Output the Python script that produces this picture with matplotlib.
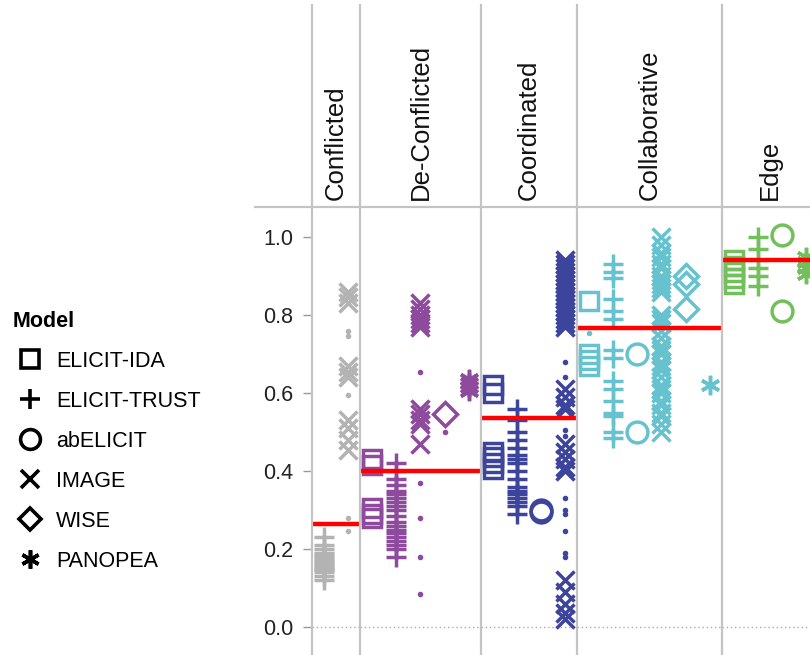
import matplotlib
matplotlib.use("Agg")
import matplotlib.pyplot as plt
from matplotlib.lines import Line2D

plt.rcParams["font.family"] = ["Liberation Sans", "DejaVu Sans"]

# ---- data ----
facets = ["Conflicted", "De-Conflicted", "Coordinated", "Collaborative", "Edge"]
facet_colors = ["#b3b3b3", "#8e4b9e", "#3d449c", "#67c2cf", "#72bf5c"]
facet_means = [0.264, 0.40, 0.537, 0.767, 0.94]

models = ["ELICIT-IDA", "ELICIT-TRUST", "abELICIT", "IMAGE", "WISE", "PANOPEA"]

conflicted = {
    "ELICIT-TRUST": [0.23, 0.21, 0.20, 0.19, 0.185, 0.18, 0.175, 0.17, 0.165,
                     0.16, 0.155, 0.15, 0.145, 0.14, 0.13, 0.12],
    "IMAGE": [0.86, 0.845, 0.83, 0.67, 0.655, 0.64, 0.53, 0.51, 0.48, 0.455],
}
conflicted_dots = {"IMAGE": [0.76, 0.745, 0.595, 0.28, 0.245]}

deconflicted = {
    "ELICIT-IDA": [0.43, 0.415, 0.305, 0.29, 0.28],
    "ELICIT-TRUST": [0.42, 0.40, 0.38, 0.365, 0.35, 0.34, 0.33, 0.32, 0.31, 0.30,
                     0.285, 0.27, 0.26, 0.25, 0.24, 0.23, 0.22, 0.21, 0.20, 0.18],
    "IMAGE": [0.83, 0.815, 0.80, 0.79, 0.78, 0.77, 0.56, 0.545, 0.53, 0.52, 0.47],
    "WISE": [0.545],
    "PANOPEA": [0.635, 0.625, 0.615, 0.605],
}
deconflicted_dots = {"IMAGE": [0.655, 0.37, 0.28, 0.18, 0.085], "WISE": [0.50]}

coordinated = {
    "ELICIT-IDA": [0.62, 0.60, 0.45, 0.435, 0.42, 0.405],
    "ELICIT-TRUST": [0.56, 0.53, 0.50, 0.48, 0.46, 0.44, 0.43, 0.42, 0.40, 0.38,
                     0.36, 0.35, 0.34, 0.33, 0.32, 0.31, 0.29],
    "abELICIT": [0.30, 0.295],
    "IMAGE": [0.94, 0.93, 0.92, 0.91, 0.90, 0.89, 0.88, 0.87, 0.86, 0.85, 0.84,
              0.83, 0.82, 0.81, 0.80, 0.79, 0.78, 0.77,
              0.61, 0.59, 0.57, 0.56, 0.47, 0.45, 0.43, 0.41, 0.40,
              0.12, 0.09, 0.06, 0.035, 0.02],
}
coordinated_dots = {"IMAGE": [0.68, 0.64, 0.505, 0.49, 0.33, 0.30, 0.29, 0.245,
                              0.19, 0.18]}

collaborative = {
    "ELICIT-IDA": [0.835, 0.70, 0.685, 0.67],
    "ELICIT-TRUST": [0.93, 0.91, 0.895, 0.84, 0.81, 0.79, 0.71, 0.69, 0.63, 0.61,
                     0.58, 0.55, 0.54, 0.50, 0.485],
    "abELICIT": [0.70, 0.50],
    "IMAGE": [1.00, 0.98, 0.96, 0.95, 0.93, 0.92, 0.90, 0.89, 0.88, 0.87, 0.86,
              0.80, 0.79, 0.78, 0.76, 0.74, 0.72, 0.71, 0.70, 0.68, 0.67, 0.66,
              0.64, 0.62, 0.61, 0.60, 0.58, 0.57, 0.55, 0.54, 0.52, 0.50],
    "WISE": [0.90, 0.88, 0.815],
    "PANOPEA": [0.62],
}
collaborative_dots = {"ELICIT-IDA": [0.755]}

edge = {
    "ELICIT-IDA": [0.94, 0.925, 0.91, 0.895, 0.88],
    "ELICIT-TRUST": [1.00, 0.97, 0.94, 0.92, 0.90, 0.875],
    "abELICIT": [1.005, 0.81],
    "PANOPEA": [0.95, 0.935, 0.92, 0.905],
}
edge_dots = {}

facet_data = [conflicted, deconflicted, coordinated, collaborative, edge]
facet_dots = [conflicted_dots, deconflicted_dots, coordinated_dots,
              collaborative_dots, edge_dots]

# marker style per model: (marker, size in pt)
marker_style = {
    "ELICIT-IDA": ("s", 13.5),
    "ELICIT-TRUST": ("+", 15),
    "abELICIT": ("o", 15),
    "IMAGE": ("x", 13.5),
    "WISE": ("D", 12),
    "PANOPEA": ((6, 2, 0), 14),
}

# ---- layout (pixels of the 810x655 picture) ----
W, H = 810, 655
step = 24.1
x0 = 312
header_y = 207


def fx(x):
    return x / W


def fy(y):
    return 1 - y / H


ylo = (627 - 655) / 390
yhi = (627 - header_y) / 390

fig = plt.figure(figsize=(W / 100, H / 100), dpi=100)

left = x0
edges = [left]
for i, name in enumerate(facets):
    data = facet_data[i]
    n = len(data)
    width = n * step
    ax = fig.add_axes([fx(left), 0, width / W, fy(header_y)])
    ax.set_xlim(0, n)
    ax.set_ylim(ylo, yhi)
    color = facet_colors[i]

    names = list(data.keys())
    for j, m in enumerate(names):
        mk, ms = marker_style[m]
        vals = data[m]
        ax.plot([j + 0.5] * len(vals), vals, ls="none", marker=mk, ms=ms,
                mfc="none", mec=color, mew=2.5, zorder=3)
    for m, vals in facet_dots[i].items():
        j = names.index(m)
        ax.plot([j + 0.5] * len(vals), vals, ls="none", marker="o", ms=4,
                mfc=color, mec=color, mew=0, zorder=3)

    ax.axhline(0, color="#aaaaaa", lw=1, ls=(0, (1, 2)), zorder=1)
    ax.axhline(facet_means[i], color="red", lw=3.2, zorder=5)

    for s in ax.spines.values():
        s.set_visible(False)
    ax.set_xticks([])
    if i == 0:
        ax.set_yticks([0, 0.2, 0.4, 0.6, 0.8, 1.0])
        ax.set_yticklabels([f"{v:.1f}" for v in [0, 0.2, 0.4, 0.6, 0.8, 1.0]],
                           fontsize=15.5, color="#222222")
        ax.tick_params(axis="y", length=6.5, width=1, color="#999999", pad=7)
    else:
        ax.set_yticks([])

    fig.text(fx(left + width / 2), fy(200), name, rotation=90, ha="center",
             va="bottom", fontsize=18.5, color="#111111")
    left += width
    edges.append(left)

# facet grid lines
for e in edges:
    fig.add_artist(Line2D([fx(e), fx(e)], [fy(5), 0], color="#c4c4c4",
                          lw=1.6, transform=fig.transFigure))
fig.add_artist(Line2D([fx(255), 1], [fy(header_y), fy(header_y)],
                      color="#c4c4c4", lw=1.6, transform=fig.transFigure))

# legend
handles = []
for m in models:
    mk, ms = marker_style[m]
    handles.append(Line2D([], [], ls="none", marker=mk, ms=ms * 0.95,
                          mfc="none", mec="black", mew=2.6))
leg = fig.legend(handles, models, title="Model", loc="upper left",
                 bbox_to_anchor=(fx(13), fy(311)), frameon=False,
                 fontsize=15.5, title_fontsize=15.5, borderpad=0,
                 borderaxespad=0, handlelength=1.55, handletextpad=0.45,
                 labelspacing=0.88, alignment="left")
leg.get_title().set_fontweight("bold")

fig.savefig("out.png", dpi=100)
